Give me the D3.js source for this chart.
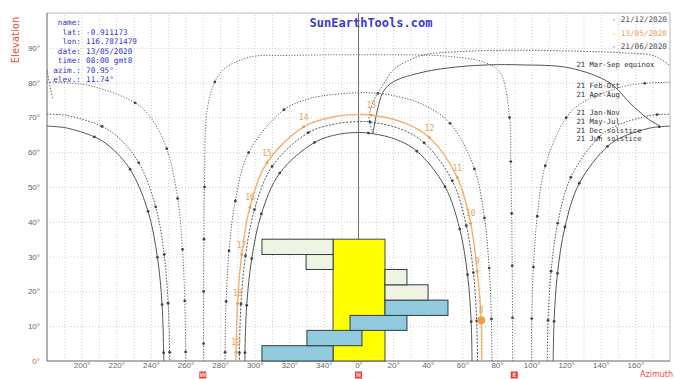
<!DOCTYPE html>
<html>
<head>
<meta charset="utf-8">
<script src="https://cdn.jsdelivr.net/npm/d3@7"></script>
<style>
  body { margin: 0; background: #fff; }
  svg { display: block; }
</style>
</head>
<body>
<svg id="chart"></svg>
<script>
// ---------------------- data ----------------------------------------------
// azimuth is signed from North (east +, west -), elevation in degrees
// third value = 1 when the point carries an hour dot
const dec21E = [[112.5,0,0],[113.0,11.4,1],[115.0,25.2,1],[119.3,38.5,1],[127.6,51.1,1],[143.9,61.7,1],[152.6,64.4,0],[168.1,66.9,0],[173.8,67.3,1],[180,67.5,0]];
const dec21W = [[-180,67.5,0],[-173.8,67.3,0],[-168.1,66.9,0],[-152.6,64.4,1],[-143.9,61.7,0],[-132.0,55.1,1],[-121.6,43.0,1],[-116.2,29.8,1],[-113.5,16.2,1],[-112.6,2.4,1],[-112.5,0,0]];
const janNovE = [[109.1,0,0],[109.5,11.7,1],[111.3,25.8,1],[115.1,39.6,1],[122.7,52.8,1],[138.9,64.3,1],[148.2,67.4,0],[165.9,70.3,0],[172.5,70.8,1],[180,70.9,0]];
const janNovW = [[-180,70.9,0],[-172.5,70.8,0],[-165.9,70.3,0],[-148.2,67.4,1],[-138.9,64.3,0],[-127.0,57.0,1],[-117.2,44.3,1],[-112.3,30.6,1],[-110.0,16.6,1],[-109.1,2.5,1],[-109.1,0,0]];
const febOctE = [[99.9,0,0],[100.1,12.2,1],[101.1,27.0,1],[103.3,41.6,1],[107.9,56.1,1],[120.0,69.9,1],[129.1,74.2,0],[153.4,78.9,0],[165.4,79.8,1],[180,80.1,0]];
const febOctW = [[-180,80.1,0],[-165.4,79.8,0],[-153.4,78.9,0],[-129.1,74.2,1],[-120.0,69.9,0],[-110.8,61.0,1],[-104.5,46.7,1],[-101.7,32.1,1],[-100.4,17.3,1],[-99.9,2.6,1],[-99.9,0,0]];
const equinox = [[89,0,0],[89,12.4,1],[88.8,27.4,1],[88.5,42.4,1],[88,57.3,1],[87.3,70,1],[82,82.8,0],[74,85.6,0],[53,87.5,0],[0,88,0],[-40,87.8,0],[-62,87.4,0],[-77,84.2,0],[-83,80.2,1],[-87.5,72,0],[-89,50,1],[-89.3,35,1],[-89.5,20,1],[-89.5,5,1],[-89.5,0,0]];
const aprAug = [[77.1,0,0],[76.8,12.1,1],[75.5,26.7,1],[72.8,41.1,1],[67.0,55.2,1],[52.9,68.3,1],[37.2,73.7,0],[20.8,76.2,0],[11.2,76.9,1],[0,77.1,0],[-20.8,76.2,0],[-29.7,75.2,0],[-43.1,72.2,1],[-63.5,59.9,1],[-71.2,46.0,1],[-74.8,31.7,1],[-76.5,17.1,1],[-77.1,2.5,1],[-77.1,0,0]];
const mayJul = [[68.8,0,0],[68.3,11.5,1],[66.4,25.4,1],[62.3,38.9,1],[54.2,51.8,1],[37.9,62.7,1],[24.1,66.7,0],[6.7,68.7,1],[0,68.8,0],[-12.7,68.2,0],[-29.0,65.6,1],[-49.9,55.9,1],[-60.1,43.5,1],[-65.3,30.2,1],[-67.9,16.4,1],[-68.8,2.4,1],[-68.8,0,0]];
const may13 = [[71.2,0,0],[70.95,11.74,1],[68.6,25.8,1],[64.8,39.6,1],[57.1,52.7,1],[41.0,64.2,1],[26.5,68.4,0],[7.4,70.7,1],[0,70.8,0],[-14.0,70.2,0],[-31.7,67.3,1],[-52.9,57.0,1],[-62.7,44.2,1],[-67.5,30.6,1],[-69.9,16.6,1],[-70.8,2.5,1],[-70.9,0,0]];
const may13Hours = [8,9,10,11,12,13,14,15,16,17,18,19];
const jun21 = [[65.6,0,0],[65.1,11.3,1],[63.0,24.8,1],[58.5,37.9,1],[50.0,50.1,1],[33.7,60.3,1],[21.0,63.8,0],[5.7,65.5,1],[0,65.65,0],[-10.9,65.2,0],[-25.4,62.8,1],[-45.5,54.0,1],[-56.1,42.3,1],[-61.7,29.4,1],[-64.6,16.0,1],[-65.6,2.4,1],[-65.6,0,0]];
// hour line (analemma halves)
const hourA = [[8.4,65.5],[10.7,71.6],[14.2,77.3],[20.0,80.2],[37.3,83.0],[56.9,84.5],[76.0,85.1],[93.3,85.1],[122.2,84.2],[145.3,79.9],[156.9,74.1],[166.7,69.8],[174.2,67.5]];
const hourB = [[8.4,65.5],[6.1,69.8],[9.0,75.0],[14.2,79.3],[20.0,83.6],[26.9,85.9],[37.3,87.9],[58.7,88.9],[93.3,89.3],[128.0,89.0],[151.1,88.6],[171.3,87.6],[180,84.8]];
const hourBWrap = [[-180,83.6],[-178.3,79],[-176.6,75]];

const sunNow = [70.95, 11.74];

const pathLabels = ["21 Mar-Sep equinox","21 Feb-Oct","21 Apr-Aug","21 Jan-Nov","21 May-Jul","21 Dec solstice","21 Jun solstice"];
const pathLabelEl = [85.1, 79.2, 76.7, 71.3, 68.8, 66.3, 63.8];

const infoKeys = ["name:","lat:","lon:","date:","time:","azim.:","elev.:"];
const infoVals = ["","-0.911173","116.7871479","13/05/2020","08:00 gmt8","70.95°","11.74°"];

const legendText = ["- 21/12/2020","- 13/05/2020","- 21/06/2020"];

const azTicks = [-160,-140,-120,-100,-80,-60,-40,-20,0,20,40,60,80,100,120,140,160];
const elTicks = [0,10,20,30,40,50,60,70,80,90];
const compass = [["W",-90],["N",0],["E",90]];

// overlaid boxes: azimuth start/end, elevation bottom/top
const boxStart = [-55.8,-29.8,-4.9,15.3,15.3,15.3,-30.3,-55.8];
const boxEnd   = [-14.7,2.0,28.0,51.7,40.2,28.0,-14.7,-14.7];
const boxLow   = [0,4.4,8.8,13.1,17.5,21.9,26.3,30.6];
const boxHigh  = [4.4,8.8,13.1,17.5,21.9,26.3,30.6,35.0];
const boxKind  = ["blue","blue","blue","blue","pale","pale","pale","pale"];
const centreBox = {start: -14.7, end: 15.3, low: 0, high: 35.0};

// ---------------------- layout ---------------------------
const width = 675, height = 379;
const svg = d3.select("#chart").attr("width", width).attr("height", height);

const x = d3.scaleLinear().domain([-180, 180]).range([47, 670]);
const y = d3.scaleLinear().domain([0, 100]).range([361, 13]);

const defs = svg.append("defs");
const pat = defs.append("pattern").attr("id", "hatch").attr("patternUnits", "userSpaceOnUse")
  .attr("width", 3).attr("height", 3);
pat.append("rect").attr("width", 3).attr("height", 3).attr("fill", "#95cde1");
pat.append("path").attr("d", "M0,3 L3,0").attr("stroke", "#80bcd2").attr("stroke-width", 0.6);

// grid
svg.append("g")
  .attr("transform", "translate(0," + y(0) + ")")
  .call(d3.axisBottom(x).tickValues(d3.range(-170, 180, 10)).tickSize(-(y(0) - y(100))).tickFormat(""))
  .call(g => g.select(".domain").remove())
  .selectAll("line").attr("stroke", "#cfcfcf").attr("stroke-dasharray", "1,2");

svg.append("g")
  .attr("transform", "translate(" + x(-180) + ",0)")
  .call(d3.axisLeft(y).tickValues(d3.range(10, 100, 10)).tickSize(-(x(180) - x(-180))).tickFormat(""))
  .call(g => g.select(".domain").remove())
  .selectAll("line").attr("stroke", "#cfcfcf").attr("stroke-dasharray", "1,2");

// frame
svg.append("rect")
  .attr("x", x(-180)).attr("y", y(100))
  .attr("width", x(180) - x(-180)).attr("height", y(0) - y(100))
  .attr("fill", "none").attr("stroke", "#b8b8b8");
svg.append("line").attr("x1", x(-180)).attr("x2", x(-180)).attr("y1", y(100)).attr("y2", y(0)).attr("stroke", "#888");
svg.append("line").attr("x1", x(-180)).attr("x2", x(180)).attr("y1", y(0)).attr("y2", y(0)).attr("stroke", "#888");

// north line
svg.append("line").attr("x1", x(0)).attr("x2", x(0)).attr("y1", y(100)).attr("y2", y(0))
  .attr("stroke", "#777").attr("stroke-width", 1);

// axis labels
const xAxis = svg.append("g")
  .attr("transform", "translate(0," + y(0) + ")")
  .call(d3.axisBottom(x).tickValues(azTicks).tickSize(0).tickPadding(1)
    .tickFormat(d => ((d + 360) % 360) + "°"));
xAxis.select(".domain").remove();
xAxis.selectAll("text").attr("fill", "#666").style("font", "8px 'Liberation Sans', Arial, sans-serif");

const yAxis = svg.append("g")
  .attr("transform", "translate(" + x(-180) + ",0)")
  .call(d3.axisLeft(y).tickValues(elTicks).tickSize(0).tickPadding(7).tickFormat(d => d + "°"));
yAxis.select(".domain").remove();
yAxis.selectAll("text").attr("fill", d => d === 0 ? "#e8504a" : "#666")
  .style("font", "8px 'Liberation Sans', Arial, sans-serif");

svg.append("text").attr("transform", "translate(19,40) rotate(-90)")
  .attr("text-anchor", "middle").attr("fill", "#e8504a")
  .style("font", "10px 'DejaVu Sans', sans-serif").text("Elevation");
svg.append("text").attr("x", 673).attr("y", 377).attr("text-anchor", "end").attr("fill", "#e8504a")
  .style("font", "8px 'DejaVu Sans', sans-serif").text("Azimuth");

// compass letters
compass.forEach(c => {
  const g = svg.append("g").attr("transform", "translate(" + x(c[1]) + ",375)");
  g.append("rect").attr("x", -3.5).attr("y", -3.5).attr("width", 7).attr("height", 7).attr("fill", "#e33b3b");
  g.append("text").attr("y", 2.2).attr("text-anchor", "middle").attr("fill", "#ffd6d6")
    .style("font", "bold 6px 'DejaVu Sans', sans-serif").text(c[0]);
});

// ---------------------- sun paths --------------------------
const line = d3.line().x(d => x(d[0])).y(d => y(d[1])).curve(d3.curveCatmullRom.alpha(0.5));

const paths = [
  {pts: dec21E, dash: null, color: "#555", w: 1},
  {pts: dec21W, dash: null, color: "#555", w: 1},
  {pts: janNovE, dash: "1.5,1.5", color: "#555", w: 1},
  {pts: janNovW, dash: "1.5,1.5", color: "#555", w: 1},
  {pts: febOctE, dash: "1.2,1.6", color: "#666", w: 1},
  {pts: febOctW, dash: "1.2,1.6", color: "#666", w: 1},
  {pts: equinox, dash: "1.2,1.6", color: "#666", w: 1},
  {pts: aprAug, dash: "1.2,1.6", color: "#555", w: 1},
  {pts: mayJul, dash: "2,1.5", color: "#555", w: 1},
  {pts: jun21, dash: null, color: "#555", w: 1},
  {pts: hourA, dash: null, color: "#555", w: 1},
  {pts: hourB, dash: "1.5,1.5", color: "#666", w: 1},
  {pts: hourBWrap, dash: "1.5,1.5", color: "#666", w: 1}
];

paths.forEach(p => {
  svg.append("path").attr("d", line(p.pts)).attr("fill", "none")
    .attr("stroke", p.color).attr("stroke-width", p.w)
    .attr("stroke-dasharray", p.dash);
  svg.selectAll(null).data(p.pts.filter(d => d[2] === 1)).join("circle")
    .attr("cx", d => x(d[0])).attr("cy", d => y(d[1])).attr("r", 1.4).attr("fill", "#444");
});

// selected day (orange)
svg.append("path").attr("d", line(may13)).attr("fill", "none")
  .attr("stroke", "#f4b06a").attr("stroke-width", 1.4);
const may13Dots = may13.filter(d => d[2] === 1);
svg.selectAll(null).data(may13Dots).join("circle")
  .attr("cx", d => x(d[0])).attr("cy", d => y(d[1])).attr("r", 1.5).attr("fill", "#f0a050");
svg.selectAll(null).data(may13Dots).join("text")
  .attr("x", d => x(d[0])).attr("y", d => y(d[1]) - 7)
  .attr("text-anchor", "middle").attr("fill", "#eda25a")
  .style("font", "8px 'DejaVu Sans Mono', monospace")
  .text((d, i) => may13Hours[i]);
svg.append("circle").attr("cx", x(sunNow[0])).attr("cy", y(sunNow[1])).attr("r", 4)
  .attr("fill", "#f3a040");

// path names on the right
svg.selectAll(null).data(pathLabels).join("text")
  .attr("x", x(126)).attr("y", (d, i) => y(pathLabelEl[i]) + 2.5)
  .attr("fill", "#333").style("font", "7.2px 'DejaVu Sans Mono', monospace")
  .text(d => d);

// ---------------------- overlaid boxes --------------------------
svg.append("rect")
  .attr("x", x(centreBox.start)).attr("y", y(centreBox.high))
  .attr("width", x(centreBox.end) - x(centreBox.start))
  .attr("height", y(centreBox.low) - y(centreBox.high))
  .attr("fill", "#ffff00").attr("stroke", "#4a4a3a").attr("stroke-width", 1);

svg.selectAll(null).data(boxStart).join("rect")
  .attr("x", (d, i) => x(boxStart[i]))
  .attr("y", (d, i) => y(boxHigh[i]))
  .attr("width", (d, i) => x(boxEnd[i]) - x(boxStart[i]))
  .attr("height", (d, i) => y(boxLow[i]) - y(boxHigh[i]))
  .attr("fill", (d, i) => boxKind[i] === "blue" ? "url(#hatch)" : "#eef3e2")
  .attr("stroke", "#2f3d45").attr("stroke-width", 1);

// ---------------------- texts --------------------------
const info = svg.append("g").style("font", "7.7px 'DejaVu Sans Mono', monospace").attr("fill", "#3434d0");
infoKeys.forEach((k, i) => {
  info.append("text").attr("x", 81).attr("y", 25 + i * 9.5).attr("text-anchor", "end").text(k);
  info.append("text").attr("x", 86).attr("y", 25 + i * 9.5).text(infoVals[i]);
});

svg.append("text").attr("x", 371).attr("y", 27).attr("text-anchor", "middle")
  .attr("fill", "#3a3ad8").style("font", "bold 12px 'DejaVu Sans Mono', monospace")
  .text("SunEarthTools.com");

svg.selectAll(null).data(legendText).join("text")
  .attr("x", 667).attr("y", (d, i) => 22 + i * 13.5).attr("text-anchor", "end")
  .attr("fill", (d, i) => i === 1 ? "#f0a050" : "#555")
  .style("font", "7.7px 'DejaVu Sans Mono', monospace")
  .text(d => d);
</script>
</body>
</html>
